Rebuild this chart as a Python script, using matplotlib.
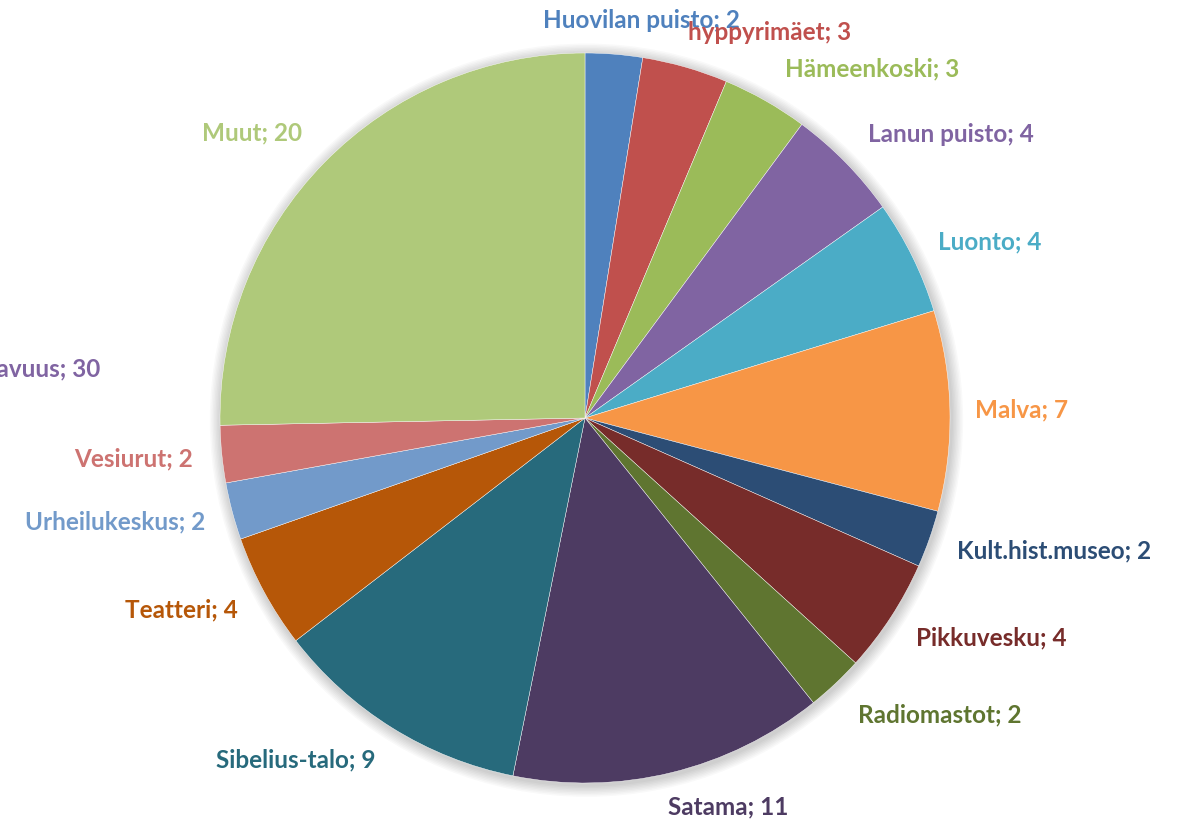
import numpy as np
import matplotlib
matplotlib.use("Agg")
import matplotlib.pyplot as plt
from matplotlib.patches import Circle
from matplotlib.transforms import Bbox

# slice data, clockwise from 12 o'clock
places = ["Huovilan puisto", "hyppyrimäet", "Hämeenkoski", "Lanun puisto", "Luonto",
          "Malva", "Kult.hist.museo", "Pikkuvesku", "Radiomastot", "Satama",
          "Sibelius-talo", "Teatteri", "Urheilukeskus", "Vesiurut", "Muut"]
counts = [2, 3, 3, 4, 4, 7, 2, 4, 2, 11, 9, 4, 2, 2, 20]
colors = ["#4F81BD", "#C0504D", "#9BBB59", "#8064A2", "#4BACC6", "#F79646",
          "#2C4D75", "#772C2A", "#5F7530", "#4D3B62", "#276A7C", "#B65708",
          "#729ACA", "#CD7371", "#AFC97A"]

# label with no visible slice (cut off at the left edge)
extra_place = "Saavutettavuus"
extra_count = 30
extra_color = "#8064A2"

# pixel geometry of the original picture
W, H = 1184, 822
cx, cy, R = 585, 418, 365

# label anchors in pixels (x, y, ha)
label_pos = [(543, 20, "left"), (688, 33, "left"), (785, 69, "left"), (868, 134, "left"),
             (938, 242, "left"), (975, 410, "left"), (957, 551, "left"), (916, 638, "left"),
             (858, 715, "left"), (728, 807, "center"), (375, 760, "right"), (238, 610, "right"),
             (205, 522, "right"), (193, 459, "right"), (252, 133, "center")]


def px(x, y):
    return (x - cx) / R, (cy - y) / R


fig = plt.figure(figsize=(W / 100, H / 100), dpi=100)
ax = fig.add_axes([0, 0, 1, 1])

# soft shadow around the pie
for i in range(8):
    ax.add_patch(Circle((0.004, -0.006), 1.0 + 0.004 * (i + 1), color="black",
                        alpha=0.025, lw=0, zorder=0))

ax.pie(counts, colors=colors, startangle=90, counterclock=False, radius=1,
       wedgeprops=dict(edgecolor="white", linewidth=0.3, zorder=1))

font = dict(family="Lato", fontweight="bold", fontsize=17.5)
for name, n, c, (x, y, ha) in zip(places, counts, colors, label_pos):
    ax.text(*px(x, y), f"{name}; {n}", color=c, ha=ha, va="center", **font)

ax.set_xlim(-cx / R, (W - cx) / R)
ax.set_ylim(-(H - cy) / R, cy / R)
ax.set_aspect("equal")
ax.axis("off")

# the cut-off label: only the tail "...avuus; 30" is visible in the picture
right_px = 100
t = ax.text(*px(right_px, 369), f"{extra_place}; {extra_count}", color=extra_color,
            ha="right", va="center", **font)
fig.canvas.draw()
probe = ax.text(0, 0, f"avuus; {extra_count}", **font)
tail_w = probe.get_window_extent(fig.canvas.get_renderer()).width
probe.remove()
t.set_clip_box(Bbox([[right_px - tail_w - 1, 0], [W, H]]))
t.set_clip_on(True)

fig.savefig("out.png", dpi=100)
